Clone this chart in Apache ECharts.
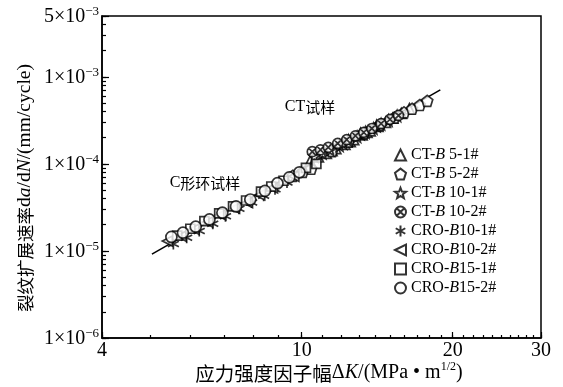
<!DOCTYPE html>
<html>
<head>
<meta charset="utf-8">
<script src="https://cdn.jsdelivr.net/npm/echarts@6/dist/echarts.min.js"></script>
<style>
  html, body { margin: 0; padding: 0; background: #fff; }
  #chart { width: 563px; height: 387px; }
</style>
</head>
<body>
<div id="chart"></div>
<script>
// Axis tick labels (ΔK in MPa·m^1/2, da/dN in mm/cycle)
const xTickLabels = [4, 10, 20, 30];
const yTickLabels = [1e-6, 1e-5, 1e-4, 1e-3, 5e-3];

const seriesNames = ['CT-B 5-1#', 'CT-B 5-2#', 'CT-B 10-1#', 'CT-B 10-2#',
                     'CRO-B10-1#', 'CRO-B10-2#', 'CRO-B15-1#', 'CRO-B15-2#'];

// [ΔK, da/dN] per specimen
const ctB5_1 = [[10.4,1.08e-4],[10.8,1.2e-4],[11.2,1.32e-4],[11.5,1.42e-4],[11.7,1.5e-4],[12.2,1.68e-4],[12.5,1.8e-4],[12.7,1.9e-4],
                [13.2,2.15e-4],[13.5,2.3e-4],[13.7,2.4e-4],[14.2,2.7e-4],[14.7,3.0e-4],[15.2,3.35e-4],[15.8,3.8e-4],[16.4,4.3e-4]];
const ctB5_2 = [[9.6,7.3e-5],[10.05,8.1e-5],[10.45,8.8e-5],[11.5,1.4e-4],[12.4,1.8e-4],[13.3,2.25e-4],
                [14.3,2.8e-4],[15.3,3.4e-4],[16.0,3.9e-4],[16.6,4.3e-4],[17.2,4.75e-4],[17.8,5.3e-4]];
const ctB10_1 = [[10.6,1.22e-4],[11.0,1.33e-4],[11.4,1.45e-4],[11.9,1.62e-4],[12.1,1.72e-4],[12.4,1.85e-4],[12.9,2.05e-4],
                 [13.1,2.2e-4],[13.4,2.3e-4],[13.9,2.55e-4],[14.1,2.72e-4],[14.4,2.85e-4],[14.9,3.15e-4],[15.5,3.55e-4]];
const ctB10_2 = [[10.5,1.38e-4],[10.9,1.45e-4],[11.3,1.55e-4],[11.8,1.72e-4],[12.3,1.9e-4],[12.8,2.1e-4],
                 [13.3,2.3e-4],[13.8,2.55e-4],[14.4,2.9e-4],[15.0,3.25e-4],[15.6,3.6e-4]];
const croB10_1 = [[5.55,1.2e-5],[5.9,1.42e-5],[6.25,1.7e-5],[6.65,2.05e-5],[7.05,2.5e-5],[7.5,3.05e-5],
                  [7.95,3.6e-5],[8.4,4.3e-5],[8.85,5.1e-5],[9.35,6.1e-5]];
const croB10_2 = [[5.4,1.3e-5],[5.75,1.48e-5],[6.1,1.78e-5],[6.5,2.15e-5],[6.9,2.6e-5],[7.35,3.1e-5],
                  [7.8,3.6e-5],[8.25,4.4e-5],[8.75,5.3e-5],[9.65,7.2e-5]];
const croB15_1 = [[5.65,1.5e-5],[6.0,1.8e-5],[6.4,2.2e-5],[6.85,2.7e-5],[7.3,3.25e-5],[7.75,3.8e-5],
                  [8.3,4.8e-5],[8.7,5.5e-5],[9.2,6.4e-5],[10.2,9.0e-5],[10.7,1.0e-4]];
const croB15_2 = [[5.5,1.45e-5],[5.8,1.62e-5],[6.15,1.9e-5],[6.55,2.3e-5],[6.95,2.75e-5],[7.4,3.25e-5],
                  [7.9,3.9e-5],[8.45,4.9e-5],[8.95,6.0e-5],[9.45,7.0e-5],[9.9,8.0e-5]];

// Paris-law fit line end points
const fitLine = [[5.03, 9.2e-6], [18.9, 7.1e-4]];

const seriesData = [ctB5_1, ctB5_2, ctB10_1, ctB10_2, croB10_1, croB10_2, croB15_1, croB15_2];

const symbols = [
  'triangle',
  'path://M5,0 L10,3.8 L8.1,9.8 L1.9,9.8 L0,3.8 Z',
  'path://M5,0 L6.234,3.301 L9.755,3.455 L6.997,5.649 L7.939,9.045 L5,7.1 L2.061,9.045 L3.003,5.649 L0.245,3.455 L3.766,3.301 Z',
  'path://M0,5 A5,5 0 1,1 10,5 A5,5 0 1,1 0,5 Z M1.6,1.6 L8.4,8.4 M8.4,1.6 L1.6,8.4',
  'path://M5,0 L5,10 M0.67,2.5 L9.33,7.5 M0.67,7.5 L9.33,2.5',
  'path://M0,5 L10,0 L10,10 Z',
  'rect',
  'circle'
];
const symbolSizes = [10, 11, 11, 10, 11, 10, 9, 11];

// Minor tick positions: every integer on ΔK, every mantissa step on da/dN
const xMinorTicks = [];
for (let v = 4; v <= 30; v++) xMinorTicks.push(v);
const yMinorTicks = [];
for (let e = -6; e <= -3; e++) {
  for (let m = 1; m <= 9; m++) {
    const v = +(m * Math.pow(10, e)).toPrecision(6);
    if (v <= 5e-3) yMinorTicks.push(v);
  }
}

const serif = 'Liberation Serif, Times New Roman, serif';
const cjk = 'Noto Sans CJK SC';

function yLabel(v) {
  const e = Math.floor(Math.log10(v) + 1e-9);
  const m = Math.round(v / Math.pow(10, e));
  return '{b|' + m + '×10}{s|−' + (-e) + '}';
}

const chart = echarts.init(document.getElementById('chart'), null, { renderer: 'canvas' });

const scatterSeries = seriesNames.map((name, i) => ({
  name: name,
  type: 'scatter',
  xAxisIndex: 0,
  yAxisIndex: 0,
  data: seriesData[i],
  symbol: symbols[i],
  symbolSize: symbolSizes[i],
  itemStyle: { color: '#fff', borderColor: '#000', borderWidth: 1.7 },
  emphasis: { disabled: true },
  z: 3
}));

chart.setOption({
  animation: false,
  backgroundColor: '#fff',
  grid: {
    left: 102, right: 22, top: 16, bottom: 49,
    show: true, borderColor: '#000', borderWidth: 1.5, backgroundColor: 'transparent'
  },
  xAxis: [
    {
      type: 'log', logBase: 10, min: 4, max: 30, position: 'bottom',
      axisLine: { lineStyle: { color: '#000', width: 1.5 } },
      axisTick: { inside: true, length: 3, customValues: xMinorTicks, lineStyle: { color: '#000', width: 1.2 } },
      axisLabel: { customValues: xTickLabels, color: '#000', fontFamily: serif, fontSize: 20, margin: 3 },
      splitLine: { show: false }
    },
    {
      type: 'log', logBase: 10, min: 4, max: 30, position: 'bottom',
      axisLine: { show: false },
      axisTick: { inside: true, length: 6, customValues: xTickLabels, lineStyle: { color: '#000', width: 1.2 } },
      axisLabel: { show: false },
      splitLine: { show: false }
    }
  ],
  yAxis: [
    {
      type: 'log', logBase: 10, min: 1e-6, max: 5e-3, position: 'left',
      axisLine: { lineStyle: { color: '#000', width: 1.5 } },
      axisTick: { inside: true, length: 4, customValues: yMinorTicks, lineStyle: { color: '#000', width: 1.2 } },
      axisLabel: {
        customValues: yTickLabels, margin: 3, formatter: yLabel,
        rich: {
          b: { fontFamily: serif, fontSize: 20, color: '#000', verticalAlign: 'bottom', lineHeight: 22 },
          s: { fontFamily: serif, fontSize: 13, color: '#000', verticalAlign: 'top', lineHeight: 22 }
        }
      },
      splitLine: { show: false }
    },
    {
      type: 'log', logBase: 10, min: 1e-6, max: 5e-3, position: 'left',
      axisLine: { show: false },
      axisTick: { inside: true, length: 7, customValues: yTickLabels, lineStyle: { color: '#000', width: 1.2 } },
      axisLabel: { show: false },
      splitLine: { show: false }
    }
  ],
  legend: {
    data: seriesNames,
    orient: 'vertical',
    left: 389, top: 142,
    itemWidth: 11, itemHeight: 11, itemGap: 3,
    formatter: function (name) {
      const parts = name.split('B');
      return '{n|' + parts[0] + '}{i|B}{n|' + parts[1] + '}';
    },
    textStyle: {
      rich: {
        n: { fontFamily: serif, fontSize: 16, color: '#000', lineHeight: 17 },
        i: { fontFamily: serif, fontSize: 16, fontStyle: 'italic', color: '#000', lineHeight: 17 }
      }
    }
  },
  graphic: [
    {
      type: 'text', x: 329, y: 372,
      style: {
        text: '{c|应力强度因子幅}{t|Δ}{i|K}{t|/(MPa • m}{s|1/2}{t|)}',
        align: 'center', verticalAlign: 'middle',
        rich: {
          c: { fontFamily: cjk, fontSize: 19.5, color: '#000', verticalAlign: 'bottom', lineHeight: 22 },
          t: { fontFamily: serif, fontSize: 20, color: '#000', verticalAlign: 'bottom', lineHeight: 22 },
          i: { fontFamily: serif, fontSize: 20, fontStyle: 'italic', color: '#000', verticalAlign: 'bottom', lineHeight: 22 },
          s: { fontFamily: serif, fontSize: 12, color: '#000', verticalAlign: 'top', lineHeight: 22 }
        }
      }
    },
    {
      type: 'text', x: 25, y: 188, rotation: Math.PI / 2,
      style: {
        text: '{c|裂纹扩展速率}{t|d}{i|a}{t|/d}{i|N}{t|/(mm/cycle)}',
        align: 'center', verticalAlign: 'middle',
        rich: {
          c: { fontFamily: cjk, fontSize: 17.5, color: '#000' },
          t: { fontFamily: serif, fontSize: 19.5, color: '#000' },
          i: { fontFamily: serif, fontSize: 19.5, fontStyle: 'italic', color: '#000' }
        }
      }
    },
    {
      type: 'text', x: 310, y: 107,
      style: {
        text: '{t|CT}{c|试样}', align: 'center', verticalAlign: 'middle',
        rich: {
          t: { fontFamily: serif, fontSize: 16, color: '#000' },
          c: { fontFamily: cjk, fontSize: 15, color: '#000' }
        }
      }
    },
    {
      type: 'text', x: 205, y: 183,
      style: {
        text: '{t|C}{c|形环试样}', align: 'center', verticalAlign: 'middle',
        rich: {
          t: { fontFamily: serif, fontSize: 16, color: '#000' },
          c: { fontFamily: cjk, fontSize: 15, color: '#000' }
        }
      }
    }
  ],
  series: [
    {
      name: 'fit', type: 'line', data: fitLine, xAxisIndex: 0, yAxisIndex: 0,
      symbol: 'none', lineStyle: { color: '#000', width: 1.5 }, z: 2,
      emphasis: { disabled: true }
    }
  ].concat(scatterSeries)
});
</script>
</body>
</html>
